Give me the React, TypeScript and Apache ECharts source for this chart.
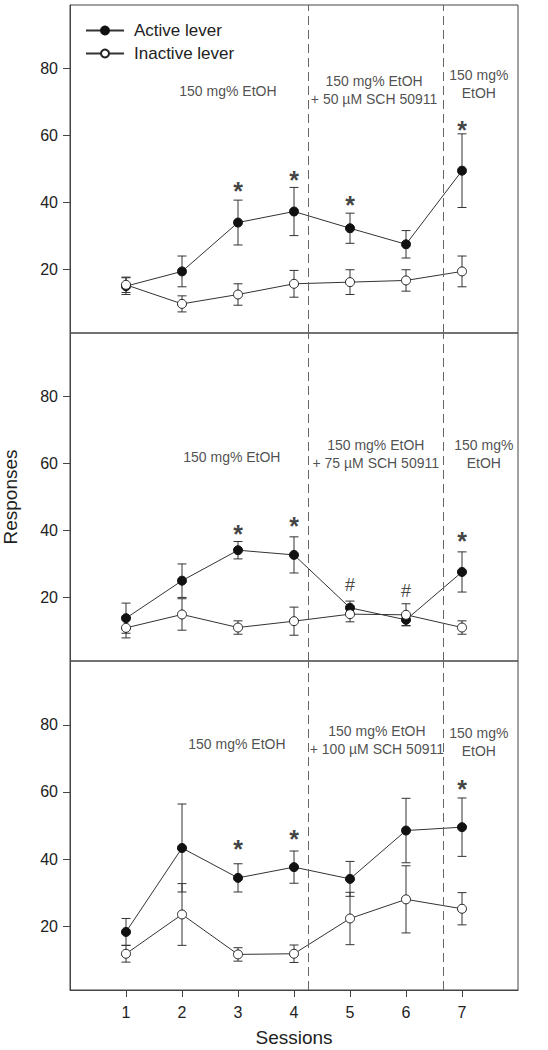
import React, { useEffect, useRef } from "react";
import * as echarts from "echarts";

const sessions = [1, 2, 3, 4, 5, 6, 7];

// Panel 1: 50 µM
const p1Active = [15.0, 19.4, 34.0, 37.3, 32.3, 27.5, 49.5];
const p1ActiveErr = [2.5, 4.6, 6.7, 7.2, 4.5, 4.1, 11.0];
const p1Inactive = [15.4, 9.7, 12.5, 15.7, 16.2, 16.7, 19.4];
const p1InactiveErr = [2.3, 2.4, 3.2, 4.0, 3.7, 3.2, 4.6];
// Panel 2: 75 µM
const p2Active = [13.8, 25.0, 34.1, 32.7, 16.9, 13.3, 27.6];
const p2ActiveErr = [4.5, 5.0, 2.6, 5.4, 2.0, 1.7, 6.0];
const p2Inactive = [10.9, 14.9, 11.0, 12.9, 15.0, 14.8, 11.0];
const p2InactiveErr = [3.0, 4.7, 2.0, 4.2, 2.3, 3.3, 2.0];
// Panel 3: 100 µM
const p3Active = [18.3, 43.3, 34.4, 37.6, 34.1, 48.5, 49.5];
const p3ActiveErr = [4.0, 13.1, 4.2, 4.8, 5.2, 9.6, 8.7];
const p3Inactive = [11.8, 23.5, 11.6, 11.8, 22.3, 28.0, 25.2];
const p3InactiveErr = [2.5, 9.2, 2.0, 2.6, 7.8, 10.0, 4.8];

// significance marks
const p1StarSessions = [3, 4, 5, 7];
const p1StarY = [45.2, 48.5, 41.0, 63.5];
const p2StarSessions = [3, 4, 7];
const p2StarY = [40.6, 43.0, 38.5];
const p2HashSessions = [5, 6];
const p2HashY = [23.8, 21.9];
const p3StarSessions = [3, 4, 7];
const p3StarY = [44.9, 47.7, 62.6];

const doses = ["50", "75", "100"];
const phaseBounds = [4.25, 6.67];
const yTicks = [20, 40, 60, 80];

// condition label anchors per panel: [x, y]
const p1LabelPos = [[2.82, 73.4], [5.43, 73.6], [7.3, 75.4]];
const p2LabelPos = [[2.89, 62.0], [5.46, 62.8], [7.39, 62.7]];
const p3LabelPos = [[2.98, 74.2], [5.48, 75.6], [7.3, 74.8]];

const FONT = "'Liberation Sans', Arial, sans-serif";
const INK = "#222";

const panels = [
  { active: p1Active, aErr: p1ActiveErr, inactive: p1Inactive, iErr: p1InactiveErr, stars: [p1StarSessions, p1StarY], hashes: [[], []], labels: p1LabelPos },
  { active: p2Active, aErr: p2ActiveErr, inactive: p2Inactive, iErr: p2InactiveErr, stars: [p2StarSessions, p2StarY], hashes: [p2HashSessions, p2HashY], labels: p2LabelPos },
  { active: p3Active, aErr: p3ActiveErr, inactive: p3Inactive, iErr: p3InactiveErr, stars: [p3StarSessions, p3StarY], hashes: [[], []], labels: p3LabelPos },
];

const gridTops = [5, 333, 661];
const gridHeights = [328, 328, 329];

function errRender(params: any, api: any) {
  const x = api.value(0);
  const lo = api.value(1);
  const hi = api.value(2);
  const t = api.coord([x, hi]);
  const b = api.coord([x, lo]);
  const hw = 4.5;
  const style = { stroke: "#333", lineWidth: 1 };
  return {
    type: "group",
    children: [
      { type: "line", shape: { x1: t[0], y1: t[1], x2: b[0], y2: b[1] }, style },
      { type: "line", shape: { x1: t[0] - hw, y1: t[1], x2: t[0] + hw, y2: t[1] }, style },
      { type: "line", shape: { x1: b[0] - hw, y1: b[1], x2: b[0] + hw, y2: b[1] }, style },
    ],
  };
}

function buildOption() {
  const grid = gridTops.map((top, i) => ({
    left: 70,
    right: 30,
    top,
    height: gridHeights[i],
    show: true,
    borderColor: "#444",
    borderWidth: 1,
    backgroundColor: "transparent",
    containLabel: false,
    outerBoundsMode: "none",
  }));

  const xAxis = gridTops.map((_, i) => {
    const bottom = i === 2;
    return {
      gridIndex: i,
      type: "value",
      min: 0,
      max: 8,
      show: bottom,
      axisLine: { show: true, lineStyle: { color: "#444" } },
      axisTick: { show: bottom, length: 7, customValues: sessions, lineStyle: { color: "#444" } },
      axisLabel: { show: bottom, customValues: sessions, fontSize: 16, color: INK, fontFamily: FONT, margin: 14 },
      splitLine: { show: false },
      name: bottom ? "Sessions" : "",
      nameLocation: "middle",
      nameGap: 38,
      nameTextStyle: { fontSize: 19, color: INK, fontFamily: FONT },
    };
  });

  const yAxis = gridTops.map((_, i) => ({
    gridIndex: i,
    type: "value",
    min: 1,
    max: 99,
    axisLine: { show: true, lineStyle: { color: "#444" } },
    axisTick: { show: true, length: 7, customValues: yTicks, lineStyle: { color: "#444" } },
    axisLabel: { customValues: yTicks, fontSize: 16, color: INK, fontFamily: FONT, margin: 12 },
    splitLine: { show: false },
    name: i === 1 ? "Responses" : "",
    nameLocation: "middle",
    nameGap: 50,
    nameTextStyle: { fontSize: 19, color: INK, fontFamily: FONT },
  }));

  const series: any[] = [];
  panels.forEach((p, i) => {
    const axes = { xAxisIndex: i, yAxisIndex: i };
    series.push({
      type: "custom",
      ...axes,
      z: 1,
      renderItem: errRender,
      encode: { x: 0, y: [1, 2] },
      data: sessions.map((s, k) => [s, p.active[k] - p.aErr[k], p.active[k] + p.aErr[k]]),
      silent: true,
    });
    series.push({
      type: "custom",
      ...axes,
      z: 1,
      renderItem: errRender,
      encode: { x: 0, y: [1, 2] },
      data: sessions.map((s, k) => [s, p.inactive[k] - p.iErr[k], p.inactive[k] + p.iErr[k]]),
      silent: true,
    });
    series.push({
      name: "Active lever",
      type: "line",
      ...axes,
      z: 3,
      data: sessions.map((s, k) => [s, p.active[k]]),
      symbol: "circle",
      symbolSize: 9,
      showAllSymbol: true,
      itemStyle: { color: "#111", borderColor: "#111", borderWidth: 1 },
      lineStyle: { color: "#333", width: 1 },
      markLine: {
        silent: true,
        symbol: ["none", "none"],
        label: { show: false },
        lineStyle: { color: "#666", type: [9, 5], width: 1 },
        data: phaseBounds.map((v) => ({ xAxis: v })),
      },
    });
    series.push({
      name: "Inactive lever",
      type: "line",
      ...axes,
      z: 4,
      data: sessions.map((s, k) => [s, p.inactive[k]]),
      symbol: "circle",
      symbolSize: 9,
      showAllSymbol: true,
      itemStyle: { color: "#fff", borderColor: "#222", borderWidth: 1 },
      lineStyle: { color: "#333", width: 1 },
    });
    // significance asterisks
    series.push({
      type: "scatter",
      ...axes,
      z: 5,
      silent: true,
      symbolSize: 1,
      itemStyle: { color: "transparent" },
      data: p.stars[0].map((s, k) => [s, p.stars[1][k]]),
      label: { show: true, position: "inside", formatter: "*", fontSize: 25, fontWeight: "bold", color: "#111", fontFamily: FONT, offset: [0, 6] },
    });
    if (p.hashes[0].length) {
      series.push({
        type: "scatter",
        ...axes,
        z: 5,
        silent: true,
        symbolSize: 1,
        itemStyle: { color: "transparent" },
        data: p.hashes[0].map((s, k) => [s, p.hashes[1][k]]),
        label: { show: true, position: "inside", formatter: "#", fontSize: 18, color: "#111", fontFamily: FONT },
      });
    }
    // condition labels
    const texts = ["150 mg% EtOH", `150 mg% EtOH\n+ ${doses[i]} µM SCH 50911`, "150 mg%\nEtOH"];
    series.push({
      type: "scatter",
      ...axes,
      z: 5,
      silent: true,
      symbolSize: 1,
      itemStyle: { color: "transparent" },
      data: p.labels.map((pos, k) => ({ value: pos, name: texts[k] })),
      label: {
        show: true,
        position: "inside",
        formatter: (prm: any) => prm.name,
        fontSize: 14,
        lineHeight: 18,
        color: INK,
        fontFamily: FONT,
        align: "center",
      },
    });
  });

  return {
    animation: false,
    backgroundColor: "#fff",
    textStyle: { fontFamily: FONT },
    legend: {
      data: ["Active lever", "Inactive lever"],
      orient: "vertical",
      left: 80,
      top: 17,
      itemWidth: 38,
      itemHeight: 10,
      itemGap: 6,
      selectedMode: false,
      textStyle: { fontSize: 17, color: INK, fontFamily: FONT, padding: [0, 0, 0, 5] },
    },
    grid,
    xAxis,
    yAxis,
    series,
  };
}

export default function App() {
  const ref = useRef<HTMLDivElement>(null);
  useEffect(() => {
    if (!ref.current) return;
    const chart = echarts.init(ref.current, undefined, { renderer: "svg" });
    chart.setOption(buildOption() as any);
    return () => chart.dispose();
  }, []);
  return (
    <div
      ref={ref}
      style={{ position: "fixed", left: 0, top: 0, width: 548, height: 1050, background: "#fff" }}
    />
  );
}
